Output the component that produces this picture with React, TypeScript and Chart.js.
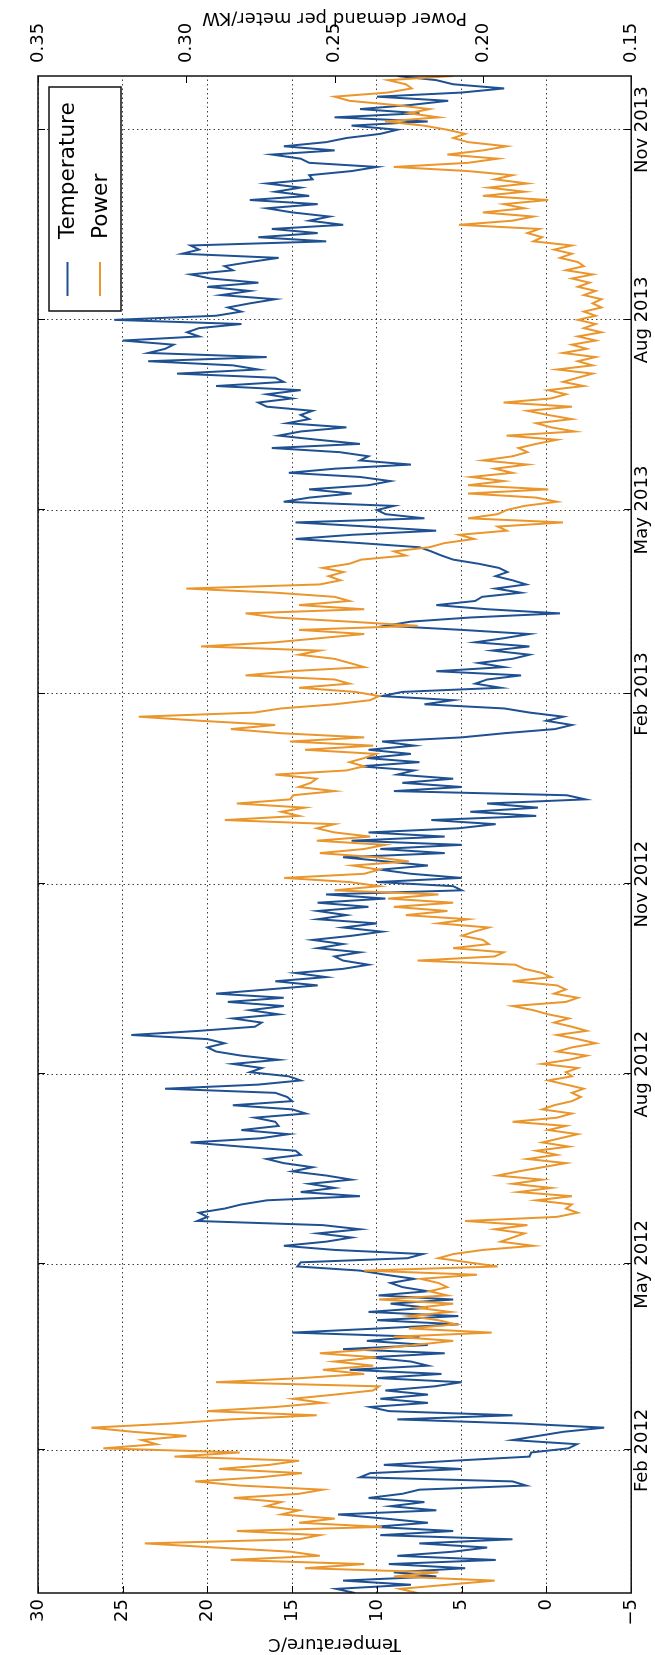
import React, { useEffect, useRef } from "react";
import { Chart, registerables } from "chart.js";

Chart.register(...registerables);

const START_DATE = "2011-11-24";
const END_DATE = "2013-11-27";
const SAMPLE_STEP_DAYS = 2;

const tickDates = ["2012-02-01", "2012-05-01", "2012-08-01", "2012-11-01", "2013-02-01", "2013-05-01", "2013-08-01", "2013-11-01"];
const tickLabels = ["Feb 2012", "May 2012", "Aug 2012", "Nov 2012", "Feb 2013", "May 2013", "Aug 2013", "Nov 2013"];

const temperatureTicks = [-5, 0, 5, 10, 15, 20, 25, 30];
const powerTicks = [0.15, 0.2, 0.25, 0.3, 0.35];

const seriesLabels = ["Temperature", "Power"];

const temperature = [
  11.3, 12.4, 8.0, 12.0, 6.5, 9.0, 4.8, 9.3, 3.0, 8.8,
  5.5, 3.5, 7.5, 2.0, 9.8, 5.5, 10.2, 7.0, 9.5, 12.3,
  6.5, 9.2, 7.2, 10.5, 8.5, 7.5, 1.2, 2.0, 11.0, 10.4,
  5.0, 9.6, 5.5, 1.0, 0.9, -1.3, -1.8, 2.0, 0.5, -1.0,
  -3.4, 1.5, 8.8, 2.0, 9.3, 10.4, 7.0, 9.8, 7.0, 9.5,
  6.6, 5.0, 10.0, 6.2, 11.6, 7.0, 8.0, 10.5, 6.0, 12.0,
  7.0, 10.6, 7.5, 15.0, 9.9, 5.2, 10.0, 5.2, 10.5, 7.0,
  9.2, 5.5, 9.9, 7.0, 8.5, 9.2, 7.8, 9.5, 11.0, 14.7,
  14.5, 8.2, 7.3, 12.5, 15.5, 13.0, 11.5, 13.5, 11.0, 13.2,
  20.6, 20.0, 20.5, 19.0, 18.0, 16.5, 11.0, 14.5, 12.5, 14.0,
  11.5, 13.0, 15.0, 13.8, 15.5, 16.5, 14.5, 14.8, 18.0, 21.0,
  16.9, 15.2, 18.0, 15.8, 16.0, 17.2, 14.2, 15.0, 18.5, 15.0,
  15.3, 16.0, 22.5, 17.0, 14.5, 15.2, 17.5, 16.8, 18.5, 15.8,
  18.0, 19.5, 20.0, 19.0, 20.0, 24.5, 20.5, 17.2, 16.8, 18.5,
  15.8, 17.5, 15.5, 18.8, 15.5, 19.5, 16.5, 13.5, 16.0, 13.0,
  14.8, 12.0, 10.5, 12.0, 12.5, 11.0, 13.5, 12.0, 13.8, 11.5,
  9.7, 12.0, 10.0, 13.5, 11.8, 13.5, 10.5, 13.5, 9.5, 13.0,
  5.0, 5.5, 10.0, 5.0, 8.0, 9.8, 7.0, 9.5, 12.0, 6.0,
  9.8, 5.0, 11.5, 6.0, 10.5, 5.2, 3.0, 6.8, 0.6, 4.5,
  0.5, 3.5, -2.3, -1.2, 9.0, 5.0, 8.5, 5.5, 8.8, 7.8,
  11.0, 7.5, 10.6, 8.0, 10.5, 7.8, 9.7, 5.0, 2.5, -0.5,
  -1.5, 0.0, -1.0, 1.0, 2.5, 7.2, 5.5, 9.7, 8.5, 2.7,
  4.2, 3.5, 1.5, 6.5, 2.5, 4.0, 2.0, 1.0, 3.2, 1.0,
  4.2, 2.5, 1.0, 5.0, 9.5, 8.0, 4.5, -0.8, 3.5, 6.5,
  4.2, 3.8, 1.5,
  3.0, 1.2, 2.0, 3.0, 2.3, 2.8, 4.0, 5.5, 6.2, 6.8,
  7.5, 11.0, 14.8, 11.5, 6.5, 10.5, 14.8, 7.2, 9.5, 10.0,
  9.0, 15.5, 14.0, 11.5, 14.0, 10.5, 9.2, 11.0, 15.2, 12.5,
  8.0, 11.0, 10.5, 12.2, 16.2, 11.0, 13.5, 15.8, 14.5, 11.8,
  15.3, 14.0, 14.5, 13.8, 16.5, 17.0, 15.0, 16.5, 14.5, 19.5,
  15.5, 16.0, 21.8, 17.0, 18.5, 23.5, 16.5, 23.5, 22.5, 22.0,
  25.0, 20.5, 21.2, 20.5, 18.0, 25.5, 19.5, 18.0, 18.8, 17.5,
  16.0, 19.2, 17.5, 20.0, 17.0, 19.8, 21.0, 18.5, 19.0, 17.5,
  15.8, 21.5, 20.5, 21.0, 13.0, 17.0, 13.5, 16.2, 12.0, 14.0,
  12.8, 15.0, 16.5, 13.5, 17.5, 14.0, 16.0, 14.5, 16.5, 13.8,
  14.0, 11.5, 10.0, 14.0, 14.5, 16.2, 12.5, 15.5, 13.0, 11.8,
  9.8, 8.8, 11.5, 7.0, 12.5, 7.5, 11.0, 8.0, 5.8, 10.0,
  5.0, 2.5, 5.5, 6.5, 8.8,
];

const power = [
  0.222, 0.228, 0.212, 0.196, 0.230, 0.215, 0.260, 0.240, 0.285, 0.255,
  0.265, 0.290, 0.314, 0.262, 0.255, 0.283, 0.234, 0.262, 0.250, 0.268,
  0.262, 0.273, 0.268, 0.284, 0.262, 0.254, 0.282, 0.297, 0.275, 0.261,
  0.289, 0.272, 0.262, 0.304, 0.282, 0.328, 0.310, 0.315, 0.300, 0.318,
  0.332, 0.305, 0.285, 0.256, 0.293, 0.270, 0.254, 0.264, 0.250, 0.237,
  0.235, 0.290, 0.261, 0.240, 0.254, 0.237, 0.250, 0.236, 0.255, 0.236,
  0.223, 0.210, 0.230, 0.197, 0.225, 0.209, 0.215, 0.225, 0.211, 0.222,
  0.210, 0.235, 0.212, 0.218, 0.212, 0.215, 0.221, 0.202, 0.240, 0.195,
  0.205, 0.215, 0.210, 0.200, 0.183, 0.194, 0.190, 0.186, 0.196, 0.185,
  0.206, 0.175, 0.168, 0.172, 0.170, 0.182, 0.170, 0.188, 0.177, 0.190,
  0.180, 0.195, 0.188, 0.180, 0.172, 0.185, 0.175, 0.182, 0.171, 0.180,
  0.174, 0.168, 0.178, 0.172, 0.190, 0.175, 0.170, 0.180, 0.176, 0.170,
  0.167, 0.170, 0.166, 0.172, 0.178, 0.170, 0.172, 0.168, 0.180, 0.171,
  0.165, 0.175, 0.170, 0.162, 0.168, 0.175, 0.165, 0.170, 0.176, 0.171,
  0.178, 0.183, 0.190, 0.172, 0.168, 0.176, 0.172, 0.175, 0.190, 0.177,
  0.180, 0.186, 0.189, 0.222, 0.196, 0.193, 0.210, 0.198, 0.200, 0.207,
  0.203, 0.198, 0.215, 0.205, 0.226, 0.212, 0.230, 0.210, 0.232, 0.215,
  0.250, 0.235, 0.245, 0.267, 0.240, 0.235, 0.244, 0.225, 0.236, 0.255,
  0.240, 0.233, 0.256, 0.238, 0.250, 0.256, 0.250, 0.287, 0.262, 0.268,
  0.260, 0.283, 0.265, 0.264, 0.250, 0.262, 0.258, 0.256, 0.270, 0.246,
  0.240, 0.245, 0.240, 0.236, 0.260, 0.237, 0.265, 0.240, 0.268, 0.285,
  0.270, 0.295, 0.316, 0.277, 0.268, 0.250, 0.238, 0.235, 0.243, 0.262,
  0.245, 0.250, 0.280, 0.265, 0.240, 0.245, 0.250, 0.262, 0.255, 0.295,
  0.270, 0.255, 0.240, 0.262, 0.222, 0.245, 0.270, 0.280, 0.240, 0.262,
  0.245, 0.250, 0.270,
  0.300, 0.255, 0.248, 0.252, 0.247, 0.254, 0.245, 0.241, 0.226, 0.230,
  0.218, 0.213, 0.203, 0.208, 0.192, 0.195, 0.173, 0.205, 0.195, 0.192,
  0.186, 0.175, 0.182, 0.205, 0.178, 0.205, 0.193, 0.204, 0.190, 0.196,
  0.185, 0.200, 0.190, 0.185, 0.188, 0.182, 0.175, 0.192, 0.169, 0.177,
  0.182, 0.170, 0.178, 0.185, 0.170, 0.193, 0.177, 0.172, 0.178, 0.166,
  0.173, 0.168, 0.163, 0.175, 0.163, 0.168, 0.162, 0.173, 0.165, 0.170,
  0.162, 0.168, 0.160, 0.166, 0.162, 0.168, 0.162, 0.166, 0.160, 0.163,
  0.160, 0.166, 0.162, 0.168, 0.164, 0.170, 0.163, 0.172, 0.166, 0.168,
  0.174, 0.170, 0.176, 0.170, 0.183, 0.180, 0.185, 0.181, 0.208, 0.190,
  0.183, 0.200, 0.186, 0.193, 0.178, 0.200, 0.186, 0.198, 0.185, 0.196,
  0.190, 0.205, 0.230, 0.205, 0.195, 0.212, 0.200, 0.192, 0.205, 0.210,
  0.206, 0.212, 0.220, 0.233, 0.215, 0.225, 0.218, 0.230, 0.245, 0.250,
  0.232, 0.224, 0.226, 0.232, 0.210,
];

// ---- styling ----
const W = 1655; // drawn landscape, then turned a quarter turn on the page
const H = 655;
const FONT = "'DejaVu Sans', 'Bitstream Vera Sans', sans-serif";
const BLUE = "#1f5192";
const ORANGE = "#ea962d";
const GRID = "rgba(0,0,0,0.75)";

function dayOffset(date: string): number {
  return Math.round((Date.parse(date + "T00:00:00Z") - Date.parse(START_DATE + "T00:00:00Z")) / 86400000);
}

const totalDays = dayOffset(END_DATE);
const tickDays = tickDates.map(dayOffset);

function fmtTemp(v: number): string {
  return v < 0 ? "\u2212" + Math.abs(v) : String(v);
}

const decorPlugin = {
  id: "decor",
  afterDatasetsDraw(chart: any) {
    const { ctx, chartArea: a, scales } = chart;
    ctx.save();
    // inward tick marks
    ctx.strokeStyle = "#000";
    ctx.lineWidth = 1;
    ctx.beginPath();
    for (const d of tickDays) {
      const px = Math.round(scales.x.getPixelForValue(d)) + 0.5;
      ctx.moveTo(px, a.bottom);
      ctx.lineTo(px, a.bottom - 7);
      ctx.moveTo(px, a.top);
      ctx.lineTo(px, a.top + 7);
    }
    for (const t of temperatureTicks) {
      const py = Math.round(scales.y.getPixelForValue(t)) + 0.5;
      ctx.moveTo(a.left, py);
      ctx.lineTo(a.left + 7, py);
    }
    for (const p of powerTicks) {
      const py = Math.round(scales.y2.getPixelForValue(p)) + 0.5;
      ctx.moveTo(a.right, py);
      ctx.lineTo(a.right - 7, py);
    }
    ctx.stroke();
    // frame
    ctx.lineWidth = 1.5;
    ctx.strokeStyle = "#111";
    ctx.strokeRect(a.left, a.top, a.right - a.left, a.bottom - a.top);
    ctx.restore();
  },
  afterDraw(chart: any) {
    const { ctx, chartArea: a } = chart;
    const midY = (a.top + a.bottom) / 2;
    ctx.save();
    ctx.fillStyle = "#000";
    ctx.font = `18px ${FONT}`;
    ctx.textAlign = "center";
    ctx.textBaseline = "alphabetic";
    // left axis title
    ctx.save();
    ctx.translate(16, midY);
    ctx.rotate(-Math.PI / 2);
    ctx.fillText("Temperature/C", 0, 0);
    ctx.restore();
    // right axis title
    ctx.save();
    ctx.translate(1642, midY);
    ctx.rotate(-Math.PI / 2);
    ctx.fillText("Power demand per meter/KW", 0, 0);
    ctx.restore();

    // legend box
    const bx = 1344, by = 49, bw = 224, bh = 72;
    ctx.fillStyle = "#fff";
    ctx.fillRect(bx, by, bw, bh);
    ctx.lineWidth = 1.5;
    ctx.strokeStyle = "#111";
    ctx.strokeRect(bx, by, bw, bh);
    const rows = [67.5, 100];
    const colors = [BLUE, ORANGE];
    ctx.font = `21.6px ${FONT}`;
    ctx.textAlign = "left";
    ctx.textBaseline = "middle";
    seriesLabels.forEach((lab, i) => {
      ctx.strokeStyle = colors[i];
      ctx.lineWidth = 2;
      ctx.beginPath();
      ctx.moveTo(1359, rows[i]);
      ctx.lineTo(1393, rows[i]);
      ctx.stroke();
      ctx.fillStyle = "#000";
      ctx.fillText(lab, 1416, rows[i] + 1);
    });
    ctx.restore();
  },
};

export default function App() {
  const ref = useRef<HTMLCanvasElement | null>(null);

  useEffect(() => {
    const canvas = ref.current;
    if (!canvas) return;
    const tickFont = { family: FONT, size: 18 };
    const labelFor: Record<number, string> = {};
    tickDays.forEach((d, i) => (labelFor[d] = tickLabels[i]));

    const chart = new Chart(canvas, {
      type: "line",
      data: {
        datasets: [
          {
            label: seriesLabels[0],
            data: temperature.map((v, i) => ({ x: i * SAMPLE_STEP_DAYS, y: v })),
            yAxisID: "y",
            borderColor: BLUE,
            borderWidth: 2,
            pointRadius: 0,
            tension: 0,
            fill: false,
            order: 1,
          },
          {
            label: seriesLabels[1],
            data: power.map((v, i) => ({ x: i * SAMPLE_STEP_DAYS, y: v })),
            yAxisID: "y2",
            borderColor: ORANGE,
            borderWidth: 2,
            pointRadius: 0,
            tension: 0,
            fill: false,
            order: 0,
          },
        ],
      },
      options: {
        animation: false,
        responsive: false,
        devicePixelRatio: 1,
        events: [],
        layout: { padding: { top: 38, left: 0, right: 0, bottom: 0 } },
        plugins: { legend: { display: false }, tooltip: { enabled: false } },
        scales: {
          x: {
            type: "linear",
            min: 0,
            max: totalDays,
            afterBuildTicks: (s: any) => {
              s.ticks = tickDays.map((v) => ({ value: v }));
            },
            afterFit: (s: any) => {
              s.height = 20;
            },
            ticks: {
              autoSkip: false,
              maxRotation: 0,
              minRotation: 0,
              padding: 0,
              color: "#000",
              font: tickFont,
              callback: (v: any) => labelFor[v as number] ?? "",
            },
            grid: { drawTicks: false, color: GRID, lineWidth: 1 },
            border: { display: false, dash: [1.5, 3] },
          },
          y: {
            type: "linear",
            position: "left",
            min: -5,
            max: 30,
            afterBuildTicks: (s: any) => {
              s.ticks = temperatureTicks.map((v) => ({ value: v }));
            },
            afterFit: (s: any) => {
              s.width = 62;
            },
            ticks: { padding: 6, color: "#000", font: tickFont, callback: (v: any) => fmtTemp(v as number) },
            grid: { drawTicks: false, color: GRID, lineWidth: 1 },
            border: { display: false, dash: [1.5, 3] },
          },
          y2: {
            type: "linear",
            position: "right",
            min: 0.15,
            max: 0.35,
            afterBuildTicks: (s: any) => {
              s.ticks = powerTicks.map((v) => ({ value: v }));
            },
            afterFit: (s: any) => {
              s.width = 76;
            },
            ticks: { padding: 13, color: "#000", font: tickFont, callback: (v: any) => (v as number).toFixed(2) },
            grid: { display: false, drawTicks: false },
            border: { display: false },
          },
        },
      },
      plugins: [decorPlugin],
    } as any);

    return () => chart.destroy();
  }, []);

  return (
    <div style={{ position: "absolute", left: 0, top: 0, width: H, height: W, overflow: "hidden", background: "#fff" }}>
      <canvas
        ref={ref}
        width={W}
        height={H}
        style={{
          position: "absolute",
          left: 0,
          top: 0,
          width: W,
          height: H,
          transformOrigin: "0 0",
          transform: `translate(0px, ${W}px) rotate(-90deg)`,
        }}
      />
    </div>
  );
}
